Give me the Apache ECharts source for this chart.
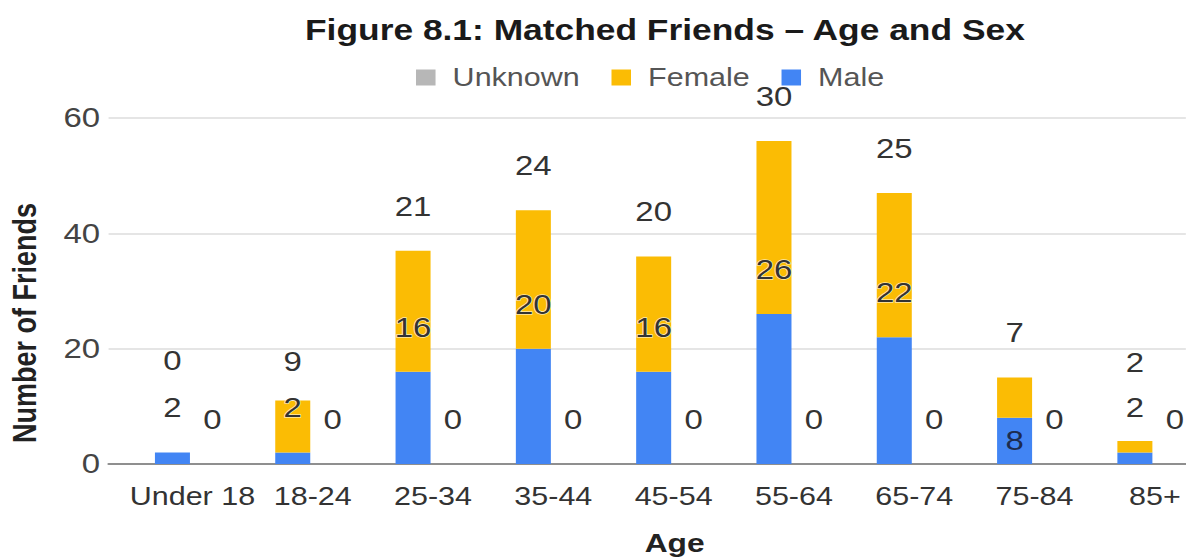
<!DOCTYPE html>
<html>
<head>
<meta charset="utf-8">
<title>Matched Friends – Age and Sex</title>
<script src="https://cdn.jsdelivr.net/npm/echarts@6/dist/echarts.min.js"></script>
<style>
  html, body { margin: 0; padding: 0; background: #ffffff; overflow: hidden; }
  /* the chart is laid out narrow and widened horizontally; the page clips it at 1186px */
  #chart { width: 1000px; height: 558px; transform: scaleX(1.22); transform-origin: 0 0; }
</style>
</head>
<body>
<div id="chart"></div>
<script>
// Age bands and counts of matched friends by sex
const ageBands = ['Under 18', '18-24', '25-34', '35-44', '45-54', '55-64', '65-74', '75-84', '85+'];
const male    = [2, 2, 16, 20, 16, 26, 22, 8, 2];
const female  = [0, 9, 21, 24, 20, 30, 25, 7, 2];
const unknown = [0, 0, 0, 0, 0, 0, 0, 0, 0];
const yTicks  = [0, 20, 40, 60];

const FONT = '"Liberation Sans", Arial, Helvetica, sans-serif';
const COLORS = { Male: '#4285f4', Female: '#fbbc04', Unknown: '#b7b7b7' };
const LABEL_SIZE = 27;
const LABEL_DIST = 31;

// value labels above a short bar are lifted clear of the label below them
const femaleLabelLift = { 'Under 18': 78, '18-24': 25, '85+': 65 };
// the 75-84 male value is written inside its segment
const maleLabelInside = { '75-84': true };

const baseLabel = {
  show: true,
  position: 'top',
  distance: LABEL_DIST,
  fontFamily: FONT,
  fontSize: LABEL_SIZE,
  color: '#333333',
  textBorderColor: 'rgba(255,255,255,0.7)',
  textBorderWidth: 1.5
};

const maleData = male.map((v, i) => {
  const item = { value: v };
  if (maleLabelInside[ageBands[i]]) {
    item.label = { position: 'inside', distance: 0, color: '#1c2b4f', textBorderWidth: 0 };
  }
  return item;
});
const femaleData = female.map((v, i) => {
  const item = { value: v };
  const lift = femaleLabelLift[ageBands[i]];
  if (lift !== undefined) item.label = { distance: lift };
  return item;
});

const chart = echarts.init(document.getElementById('chart'), null, { renderer: 'svg' });

const option = {
  animation: false,
  backgroundColor: '#ffffff',
  textStyle: { fontFamily: FONT },
  legend: {
    data: ['Unknown', 'Female', 'Male'],
    left: 336,
    top: 60,
    icon: 'rect',
    itemWidth: 16,
    itemHeight: 16,
    itemGap: 26,
    textStyle: { fontFamily: FONT, fontSize: 25, color: '#555555', padding: [0, 0, 0, 9] }
  },
  grid: [
    { left: 89, right: 28, top: 118, bottom: 94, outerBoundsMode: 'none' },
    { left: 108.4, width: 887.5, top: 118, bottom: 94, outerBoundsMode: 'none' }
  ],
  xAxis: [
    {
      gridIndex: 0, type: 'value', min: 0, max: 1,
      axisLine: { show: true, lineStyle: { color: '#8f8f8f', width: 2 } },
      axisTick: { show: false }, axisLabel: { show: false }, splitLine: { show: false }
    },
    {
      gridIndex: 1, type: 'category', data: ageBands,
      axisLine: { show: false }, axisTick: { show: false },
      axisLabel: { interval: 0, margin: 20, fontFamily: FONT, fontSize: 25, color: '#333333' }
    }
  ],
  yAxis: [
    {
      gridIndex: 0, type: 'value', min: yTicks[0], max: yTicks[yTicks.length - 1], interval: 20,
      axisLine: { show: false }, axisTick: { show: false },
      axisLabel: { margin: 7, fontFamily: FONT, fontSize: 27, color: '#444444' },
      splitLine: { lineStyle: { color: '#dcdcdc', width: 1.5 } }
    },
    {
      gridIndex: 1, type: 'value', min: yTicks[0], max: yTicks[yTicks.length - 1], interval: 20,
      show: false, splitLine: { show: false }
    }
  ],
  series: [
    {
      name: 'Male', type: 'bar', stack: 'sex', xAxisIndex: 1, yAxisIndex: 1,
      barWidth: 28.7, barGap: '14%',
      itemStyle: { color: COLORS.Male },
      label: baseLabel,
      data: maleData
    },
    {
      name: 'Female', type: 'bar', stack: 'sex', xAxisIndex: 1, yAxisIndex: 1,
      barWidth: 28.7, barGap: '14%',
      itemStyle: { color: COLORS.Female },
      label: baseLabel,
      data: femaleData
    },
    {
      name: 'Unknown', type: 'bar', xAxisIndex: 1, yAxisIndex: 1,
      barWidth: 28.7, barGap: '14%',
      itemStyle: { color: COLORS.Unknown },
      label: baseLabel,
      data: unknown
    }
  ],
  graphic: [
    {
      type: 'text', x: 545, y: 30,
      style: {
        text: 'Figure 8.1: Matched Friends – Age and Sex', textAlign: 'center', textVerticalAlign: 'middle',
        fontFamily: FONT, fontSize: 29, fontWeight: 'bold', fill: '#1a1a1a'
      }
    },
    {
      type: 'text', x: 553, y: 543,
      style: {
        text: 'Age', textAlign: 'center', textVerticalAlign: 'middle',
        fontFamily: FONT, fontSize: 26, fontWeight: 'bold', fill: '#222222'
      }
    },
    {
      type: 'text', x: 20, y: 323, rotation: Math.PI / 2,
      style: {
        text: 'Number of Friends', textAlign: 'center', textVerticalAlign: 'middle',
        fontFamily: FONT, fontSize: 27, fontWeight: 'bold', fill: '#222222'
      }
    }
  ]
};

chart.setOption(option);
</script>
</body>
</html>
